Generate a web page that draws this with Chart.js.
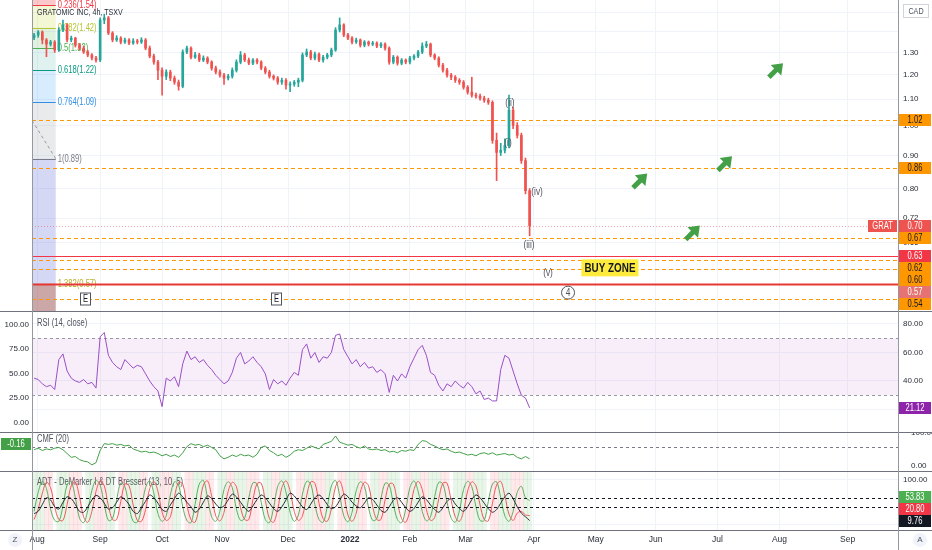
<!DOCTYPE html>
<html>
<head>
<meta charset="utf-8">
<script src="https://cdn.jsdelivr.net/npm/chart.js@4.4.1/dist/chart.umd.min.js"></script>
<style>
  body { margin: 0; background: #fff; }
  #wrap { position: relative; width: 932px; height: 550px; overflow: hidden; background: #fff; }
  #wrap canvas { position: absolute; left: 0; }
  .hline { position: absolute; left: 0; width: 932px; height: 1px; background: #6f727c; }
  .vline { position: absolute; top: 0; width: 1px; height: 550px; background: #9598a1; }
  .btn { position: absolute; top: 533px; width: 14px; height: 14px; border-radius: 7px; background: #f0f3fa;
         font: 8px "Liberation Sans", sans-serif; color: #50535e; text-align: center; line-height: 14px; }
</style>
</head>
<body>
<div id="wrap">
  <canvas id="cMain" width="932" height="311" style="top:0"></canvas>
  <canvas id="cRsi" width="932" height="120" style="top:312px"></canvas>
  <canvas id="cCmf" width="932" height="38" style="top:433px"></canvas>
  <canvas id="cDem" width="932" height="78" style="top:472px"></canvas>
  <div class="hline" style="top:311px"></div>
  <div class="hline" style="top:432px"></div>
  <div class="hline" style="top:471px"></div>
  <div class="hline" style="top:530px"></div>
  <div class="vline" style="left:32px"></div>
  <div class="vline" style="left:898px"></div>
  <div class="btn" style="left:8px">Z</div>
  <div class="btn" style="left:913px">A</div>
</div>
<script>
// GRATOMIC INC, 4h, TSXV - price with fib levels, RSI, CMF and a DeMarker oscillator
const FONT = '"Liberation Sans", Arial, sans-serif';
const SQUEEZE = 0.76;   // the screenshot text is narrow, squeeze drawn labels
const GRID = '#f0f3fa';
const UP = '#26a69a';
const DOWN = '#ef5350';

// time axis (days since Aug 1 2021, trading-time spacing)
const monthNames = ['Aug', 'Sep', 'Oct', 'Nov', 'Dec', '2022', 'Feb', 'Mar', 'Apr', 'May', 'Jun', 'Jul', 'Aug', 'Sep'];
const monthPos = [2.5, 33, 63, 92, 124, 154, 183, 210, 243, 273, 302, 332, 362, 395];

// candles, one every two days
const opens = [
  1.370, 1.383, 1.398, 1.359, 1.339, 1.349, 1.311, 1.408, 1.434, 1.359,
  1.368, 1.334, 1.320, 1.302, 1.288, 1.274, 1.265, 1.459, 1.470, 1.393,
  1.359, 1.368, 1.349, 1.359, 1.344, 1.354, 1.349, 1.359, 1.320, 1.283,
  1.256, 1.220, 1.194, 1.212, 1.186, 1.169, 1.152, 1.302, 1.320, 1.278,
  1.288, 1.265, 1.274, 1.256, 1.229, 1.212, 1.199, 1.186, 1.194, 1.220,
  1.256, 1.288, 1.265, 1.251, 1.265, 1.256, 1.229, 1.212, 1.194, 1.186,
  1.169, 1.177, 1.157, 1.161, 1.169, 1.177, 1.288, 1.302, 1.274, 1.292,
  1.265, 1.278, 1.288, 1.311, 1.408, 1.434, 1.383, 1.368, 1.349, 1.359,
  1.334, 1.349, 1.339, 1.344, 1.330, 1.339, 1.320, 1.256, 1.278, 1.251,
  1.265, 1.256, 1.274, 1.283, 1.302, 1.330, 1.339, 1.288, 1.274, 1.242,
  1.220, 1.199, 1.190, 1.177, 1.169, 1.148, 1.128, 1.116, 1.112, 1.104,
  1.096, 1.088, 0.950, 0.910, 0.917, 0.933, 1.058, 1.002, 0.967, 0.884, 0.794
];
const highs = [
  1.392, 1.405, 1.404, 1.366, 1.357, 1.356, 1.420, 1.459, 1.440, 1.378,
  1.372, 1.342, 1.330, 1.310, 1.295, 1.282, 1.470, 1.490, 1.478, 1.400,
  1.380, 1.375, 1.368, 1.366, 1.365, 1.362, 1.370, 1.366, 1.330, 1.292,
  1.264, 1.230, 1.222, 1.220, 1.195, 1.178, 1.312, 1.330, 1.326, 1.300,
  1.296, 1.284, 1.280, 1.262, 1.238, 1.222, 1.206, 1.202, 1.230, 1.266,
  1.304, 1.296, 1.274, 1.272, 1.272, 1.262, 1.236, 1.220, 1.200, 1.193,
  1.186, 1.184, 1.170, 1.176, 1.186, 1.298, 1.316, 1.310, 1.302, 1.298,
  1.286, 1.296, 1.320, 1.420, 1.470, 1.440, 1.392, 1.375, 1.368, 1.364,
  1.356, 1.354, 1.352, 1.350, 1.346, 1.345, 1.326, 1.286, 1.284, 1.272,
  1.270, 1.282, 1.290, 1.310, 1.345, 1.352, 1.344, 1.294, 1.280, 1.250,
  1.228, 1.206, 1.197, 1.184, 1.176, 1.155, 1.190, 1.124, 1.120, 1.112,
  1.104, 1.094, 0.975, 0.940, 0.955, 1.116, 1.070, 1.012, 0.975, 0.892, 0.800
];
const lows = [
  1.360, 1.372, 1.340, 1.280, 1.330, 1.300, 1.305, 1.400, 1.350, 1.350,
  1.325, 1.312, 1.295, 1.280, 1.266, 1.255, 1.258, 1.440, 1.385, 1.350,
  1.352, 1.340, 1.342, 1.336, 1.338, 1.340, 1.342, 1.312, 1.275, 1.246,
  1.180, 1.116, 1.180, 1.175, 1.160, 1.136, 1.146, 1.294, 1.270, 1.272,
  1.258, 1.258, 1.248, 1.220, 1.204, 1.190, 1.160, 1.178, 1.186, 1.212,
  1.248, 1.258, 1.244, 1.244, 1.248, 1.222, 1.204, 1.186, 1.178, 1.160,
  1.160, 1.140, 1.130, 1.152, 1.150, 1.170, 1.280, 1.266, 1.266, 1.258,
  1.256, 1.270, 1.280, 1.305, 1.398, 1.375, 1.360, 1.340, 1.342, 1.325,
  1.326, 1.330, 1.332, 1.322, 1.322, 1.310, 1.246, 1.248, 1.242, 1.244,
  1.248, 1.248, 1.266, 1.276, 1.294, 1.322, 1.280, 1.266, 1.234, 1.212,
  1.190, 1.180, 1.168, 1.160, 1.140, 1.120, 1.108, 1.104, 1.096, 1.088,
  1.080, 0.940, 0.823, 0.900, 0.908, 0.925, 0.990, 0.958, 0.875, 0.785, 0.676
];
const closes = [
  1.383, 1.398, 1.359, 1.339, 1.349, 1.311, 1.408, 1.434, 1.359, 1.368,
  1.334, 1.320, 1.302, 1.288, 1.274, 1.265, 1.459, 1.470, 1.393, 1.359,
  1.368, 1.349, 1.359, 1.344, 1.354, 1.349, 1.359, 1.320, 1.283, 1.256,
  1.220, 1.194, 1.212, 1.186, 1.169, 1.152, 1.302, 1.320, 1.278, 1.288,
  1.265, 1.274, 1.256, 1.229, 1.212, 1.199, 1.186, 1.194, 1.220, 1.256,
  1.288, 1.265, 1.251, 1.265, 1.256, 1.229, 1.212, 1.194, 1.186, 1.169,
  1.177, 1.157, 1.161, 1.169, 1.177, 1.288, 1.302, 1.274, 1.292, 1.265,
  1.278, 1.288, 1.311, 1.408, 1.434, 1.383, 1.368, 1.349, 1.359, 1.334,
  1.349, 1.339, 1.344, 1.330, 1.339, 1.320, 1.256, 1.278, 1.251, 1.265,
  1.256, 1.274, 1.283, 1.302, 1.330, 1.339, 1.288, 1.274, 1.242, 1.220,
  1.199, 1.190, 1.177, 1.169, 1.148, 1.128, 1.116, 1.112, 1.104, 1.096,
  1.088, 0.950, 0.910, 0.917, 0.933, 1.058, 1.002, 0.967, 0.884, 0.794, 0.701
];

// price axis
const priceTicks = [0.60, 0.66, 0.72, 0.80, 0.90, 1.00, 1.10, 1.20, 1.30, 1.40, 1.50];
const priceTickShown = [0.66, 0.72, 0.80, 0.90, 1.00, 1.10, 1.20, 1.30];

// fib retracement drawn at the start of the chart
const fibRatios = ['0.236', '0.382', '0.5', '0.618', '0.764', '1', '1.382'];
const fibPrices = [1.54, 1.42, 1.32, 1.22, 1.09, 0.89, 0.57];
const fibColors = ['#f23645', '#b7c62e', '#4caf50', '#089981', '#2f8fe8', '#787b86', '#b8ad2a'];
const fibFills = ['rgba(242,54,69,0.28)', 'rgba(205,220,57,0.22)', 'rgba(76,175,80,0.18)', 'rgba(8,153,129,0.13)',
  'rgba(33,150,243,0.18)', 'rgba(120,123,134,0.16)', 'rgba(80,90,210,0.24)', 'rgba(140,60,60,0.45)'];
const fibDays = [0, 11.5];
const trendDays = [0, 11.5];
const trendPrices = [1.02, 0.89];

// horizontal levels
const dashedLevels = [1.02, 0.86, 0.67, 0.62, 0.60, 0.54];
const redLevels = [0.63, 0.57];
const lastPrice = 0.70;
const priceTagVals = [1.02, 0.86, 0.70, 0.67, 0.63, 0.62, 0.60, 0.57, 0.54];
const priceTagBg = ['#ff9800', '#ff9800', '#ef5350', '#ff9800', '#f23645', '#ff9800', '#ff9800', '#e57373', '#ff9800'];

// wave labels, targets and markers
const waveLabels = ['(ii)', '(i)', '(iv)', '(iii)', '(v)', '4'];
const waveDays = [231.5, 230.5, 244.6, 240.7, 249.9, 259.6];
const wavePrices = [1.084, 0.940, 0.789, 0.655, 0.592, 0.552];
const arrowDays = [294.5, 320, 335.6, 360.3];
const arrowPrices = [0.823, 0.684, 0.875, 1.22];
const buyZoneDay = 279.9;
const buyZonePrice = 0.603;
const earningsDays = [25.7, 118.2];

// RSI (14, close)
const rsi = [
  42, 41, 38, 36, 37, 34, 55, 59, 47, 42,
  40, 39, 41, 38, 39, 35, 71, 74, 58, 53,
  50, 48, 55, 52, 49, 51, 50, 45, 40, 36,
  33, 22, 42, 40, 43, 36, 52, 61, 55, 57,
  53, 55, 51, 48, 44, 41, 38, 40, 46, 56,
  60, 52, 54, 57, 53, 50, 45, 34, 41, 38,
  40, 37, 42, 46, 44, 62, 66, 56, 60, 53,
  57, 56, 60, 72, 73, 62, 57, 52, 55, 50,
  53, 49, 50, 46, 48, 45, 32, 44, 40, 45,
  42, 50, 56, 62, 65, 58, 46, 44, 37, 33,
  38, 36, 40, 37, 35, 39, 36, 31, 33, 27,
  28, 26, 26, 48, 58, 56, 47, 38, 30, 28, 21.12
];
const rsiRightTicks = [20, 40, 60, 80];
const rsiLeftTicks = [0, 25, 50, 75, 100];

// CMF (20)
const cmf = [
  -0.04, -0.02, -0.05, -0.03, -0.04, -0.02, -0.01, -0.04, -0.09, -0.14,
  -0.13, -0.17, -0.19, -0.20, -0.24, -0.21, -0.05, 0.04, 0.03, 0.04,
  0.02, 0.03, 0.01, 0.02, -0.03, -0.05, -0.07, -0.06, -0.08, -0.07,
  -0.09, -0.12, -0.10, -0.13, -0.11, -0.14, -0.08, 0.00, 0.04, 0.02,
  0.03, 0.00, 0.02, -0.01, -0.04, -0.12, -0.16, -0.14, -0.11, -0.13,
  -0.10, -0.12, -0.11, -0.14, -0.10, -0.01, 0.01, -0.05, -0.08, -0.12,
  -0.10, -0.14, -0.11, -0.06, -0.04, -0.05, -0.02, 0.01, -0.01, -0.03,
  0.03, 0.05, 0.07, 0.14, 0.06, 0.04, 0.02, 0.03, 0.00, -0.02,
  0.01, -0.03, -0.04, -0.03, -0.05, -0.04, -0.07, -0.06, -0.08, -0.05,
  -0.06, -0.04, -0.05, 0.03, 0.08, 0.07, 0.03, 0.01, -0.02, -0.04,
  -0.03, -0.06, -0.08, -0.07, -0.09, -0.11, -0.10, -0.12, -0.09, -0.08,
  -0.10, -0.08, -0.11, -0.10, -0.09, -0.11, -0.10, -0.14, -0.16, -0.13, -0.16
];

// ADT - DeMarker I & DT Bressert (13, 10, 5)
const demGreen = [
  30, 72, 96, 80, 35, 10, 8, 42, 88, 95,
  60, 15, 5, 32, 76, 98, 88, 45, 10, 14,
  56, 92, 84, 40, 8, 6, 36, 82, 97, 70,
  25, 8, 20, 66, 95, 88, 40, 10, 5, 46,
  90, 98, 60, 18, 8, 30, 78, 95, 82, 35,
  10, 15, 60, 93, 90, 50, 12, 5, 38, 85,
  97, 72, 28, 8, 22, 68, 96, 90, 45, 12,
  6, 40, 86, 98, 65, 20, 7, 28, 75, 95,
  85, 38, 10, 14, 58, 92, 88, 46, 12, 5,
  35, 82, 97, 74, 30, 9, 18, 62, 94, 90,
  50, 15, 6, 32, 78, 96, 84, 40, 10, 10,
  52, 90, 95, 60, 20, 8, 30, 72, 85, 60, 53.83
];
const demRed = [
  12, 35, 70, 94, 82, 40, 12, 10, 45, 86,
  94, 62, 18, 6, 30, 74, 97, 86, 42, 12,
  12, 52, 90, 86, 44, 10, 8, 34, 80, 96,
  74, 28, 10, 18, 62, 94, 90, 44, 12, 6,
  42, 88, 97, 64, 20, 9, 28, 74, 94, 84,
  38, 12, 12, 56, 91, 92, 54, 14, 6, 35,
  82, 97, 75, 30, 10, 20, 64, 95, 92, 48,
  14, 8, 36, 84, 97, 68, 22, 8, 26, 72,
  94, 86, 40, 12, 12, 55, 90, 90, 50, 14,
  6, 32, 78, 96, 78, 34, 10, 16, 58, 92,
  92, 54, 18, 8, 30, 75, 95, 86, 44, 12,
  9, 48, 88, 96, 64, 24, 10, 26, 30, 22, 20.8
];
const demBlack = [
  25, 30, 45, 60, 55, 40, 35, 50, 62, 58,
  45, 30, 28, 40, 55, 65, 60, 48, 35, 38,
  50, 62, 56, 45, 30, 25, 38, 52, 66, 60,
  48, 34, 30, 44, 58, 70, 62, 50, 40, 28,
  35, 50, 64, 58, 46, 38, 42, 55, 68, 62,
  50, 38, 30, 42, 56, 66, 60, 48, 36, 30,
  40, 55, 70, 64, 52, 40, 34, 46, 60, 66,
  58, 45, 36, 40, 54, 68, 62, 50, 42, 38,
  48, 60, 56, 44, 32, 28, 40, 54, 60, 50,
  38, 30, 36, 50, 62, 56, 44, 34, 28, 38,
  52, 58, 46, 36, 30, 40, 56, 66, 60, 48,
  36, 28, 34, 48, 62, 70, 58, 40, 26, 18, 9.76
];
// bar state shading: 1 bullish, -1 bearish, 0 none
const demState = [
  1, 1, 1, -1, -1, 0, 1, 1, 1, -1,
  -1, -1, 0, 1, 1, -1, -1, -1, 1, 1,
  0, -1, -1, 1, 1, 1, -1, -1, 0, 1,
  1, -1, -1, -1, 1, 1, 0, -1, -1, 1,
  1, 1, -1, -1, 0, 1, 1, -1, -1, 1,
  1, 1, -1, -1, -1, 0, 1, 1, -1, -1,
  1, 1, 1, 0, -1, -1, 1, 1, -1, -1,
  -1, 1, 1, 0, -1, -1, 1, 1, 1, -1,
  -1, 0, 1, 1, -1, -1, 1, 1, 1, 0,
  -1, -1, 1, 1, -1, -1, 1, 1, 1, -1,
  -1, 0, 1, 1, 1, -1, -1, 1, 1, 1,
  0, -1, -1, 1, 1, 1, -1, -1, -1, 1, 1
];
const demLevels = [60, 40];

Chart.defaults.font.family = FONT;
Chart.defaults.font.size = 8;
Chart.defaults.color = '#2a2e39';

const days = closes.map((_, i) => 1 + 2 * i);
const candleColors = closes.map((c, i) => c >= opens[i] ? UP : DOWN);

// no automatic label padding: panes must line up exactly
function noPad(s) { s.paddingTop = 0; s.paddingBottom = 0; s.paddingLeft = 0; s.paddingRight = 0; }

function xAxis(labels) {
  return {
    type: 'linear', min: 0, max: 419.4, offset: false,
    afterBuildTicks: s => { s.ticks = monthPos.map(v => ({value: v})); },
    afterFit: s => { noPad(s); s.height = labels ? 20 : 0; },
    grid: {color: GRID, drawTicks: false, offset: false},
    border: {display: false},
    ticks: {
      display: labels, autoSkip: false, maxRotation: 0, padding: 5,
      font: c => ({size: 8.5, weight: monthNames[c.index] === '2022' ? 'bold' : 'normal'}),
      callback: (v, i) => monthNames[i]
    }
  };
}

function sideAxis(pos, min, max, tickVals, width, fmt) {
  return {
    position: pos, min: min, max: max,
    afterBuildTicks: s => { s.ticks = tickVals.map(v => ({value: v})); },
    afterFit: s => { noPad(s); s.width = width; },
    ticks: {autoSkip: false, padding: pos === 'right' ? 5 : -5, callback: fmt || (v => v.toFixed(2))},
    grid: {color: GRID, drawTicks: false},
    border: {display: false}
  };
}

function ntext(ctx, text, x, y, size, color, align, bold) {
  ctx.save();
  ctx.font = (bold ? 'bold ' : '') + size + 'px ' + FONT;
  ctx.textBaseline = 'middle';
  ctx.textAlign = align || 'left';
  ctx.fillStyle = color;
  ctx.translate(x, y);
  ctx.scale(SQUEEZE, 1);
  ctx.fillText(text, 0, 0);
  ctx.restore();
}

function tag(ctx, x, y, w, text, bg, fg) {
  ctx.fillStyle = bg;
  ctx.fillRect(x, Math.round(y - 6), w, 12);
  ntext(ctx, text, x + w / 2, Math.round(y) + 0.5, 10, fg, 'center');
}

function hLine(ctx, a, y, color, width, dash) {
  ctx.save();
  ctx.strokeStyle = color;
  ctx.lineWidth = width;
  ctx.setLineDash(dash);
  ctx.beginPath();
  ctx.moveTo(a.left, Math.round(y) + 0.5);
  ctx.lineTo(a.right, Math.round(y) + 0.5);
  ctx.stroke();
  ctx.restore();
}

function arrow(ctx, cx, cy) {
  ctx.save();
  ctx.translate(cx, cy);
  ctx.rotate(-Math.PI / 4);
  ctx.strokeStyle = '#43a047';
  ctx.fillStyle = '#43a047';
  ctx.lineWidth = 5;
  ctx.beginPath();
  ctx.moveTo(-10, 0);
  ctx.lineTo(2, 0);
  ctx.stroke();
  ctx.beginPath();
  ctx.moveTo(10, 0);
  ctx.lineTo(0, -7.5);
  ctx.lineTo(0, 7.5);
  ctx.closePath();
  ctx.fill();
  ctx.restore();
}

const mainDecor = {
  id: 'mainDecor',
  beforeDatasetsDraw(chart) {
    const {ctx, chartArea: a, scales: {x, y}} = chart;
    const px = d => x.getPixelForValue(d);
    const py = v => y.getPixelForValue(v);
    ctx.save();
    ctx.beginPath();
    ctx.rect(a.left, a.top, a.width, a.height);
    ctx.clip();
    const x0 = px(fibDays[0]), x1 = px(fibDays[1]);
    const edges = [a.top, ...fibPrices.map(py), a.bottom];
    fibFills.forEach((c, i) => {
      ctx.fillStyle = c;
      ctx.fillRect(x0, edges[i], x1 - x0, edges[i + 1] - edges[i]);
    });
    fibPrices.forEach((p, i) => {
      const yy = Math.round(py(p)) + 0.5;
      ctx.strokeStyle = fibColors[i];
      ctx.lineWidth = 1;
      ctx.beginPath();
      ctx.moveTo(x0, yy);
      ctx.lineTo(x1, yy);
      ctx.stroke();
      ntext(ctx, fibRatios[i] + '(' + p.toFixed(2) + ')', x1 + 2, yy, 10, fibColors[i]);
    });
    ctx.strokeStyle = '#9598a1';
    ctx.setLineDash([3, 3]);
    ctx.beginPath();
    ctx.moveTo(px(trendDays[0]), py(trendPrices[0]));
    ctx.lineTo(px(trendDays[1]), py(trendPrices[1]));
    ctx.stroke();
    ctx.setLineDash([]);
    hLine(ctx, a, py(lastPrice), 'rgba(242,54,69,0.45)', 1, [1, 2]);
    dashedLevels.forEach(v => hLine(ctx, a, py(v), '#ff9800', 1, [4, 3]));
    hLine(ctx, a, py(redLevels[0]), '#f23645', 1.2, []);
    hLine(ctx, a, py(redLevels[1]), '#e53935', 2, []);
    ctx.restore();
  },
  afterDraw(chart) {
    const {ctx, chartArea: a, scales: {x, y}} = chart;
    const px = d => x.getPixelForValue(d);
    const py = v => y.getPixelForValue(v);
    ctx.save();
    // wave labels
    waveLabels.forEach((t, i) => {
      const cx = px(waveDays[i]), cy = py(wavePrices[i]);
      ntext(ctx, t, cx, cy, 11, '#50535e', 'center');
      if (t === '4') {
        ctx.strokeStyle = '#50535e';
        ctx.lineWidth = 1;
        ctx.beginPath();
        ctx.arc(cx, cy, 6.5, 0, Math.PI * 2);
        ctx.stroke();
      }
    });
    // buy zone
    ctx.font = 'bold 13px ' + FONT;
    const bx = px(buyZoneDay), by = py(buyZonePrice);
    const bw = ctx.measureText('BUY ZONE').width * SQUEEZE + 6;
    ctx.fillStyle = '#ffeb3b';
    ctx.fillRect(bx - bw / 2, by - 8.5, bw, 17);
    ntext(ctx, 'BUY ZONE', bx, by + 0.5, 13, '#131722', 'center', true);
    // target arrows
    arrowDays.forEach((d, i) => arrow(ctx, px(d), py(arrowPrices[i])));
    // earnings markers
    earningsDays.forEach(d => {
      const ex = Math.round(px(d)) + 0.5, ey = a.bottom - 12;
      ctx.fillStyle = '#fff';
      ctx.fillRect(ex - 5, ey - 6, 10, 12);
      ctx.strokeStyle = '#50535e';
      ctx.lineWidth = 1;
      ctx.strokeRect(ex - 5, ey - 6, 10, 12);
      ntext(ctx, 'E', ex, ey + 0.5, 10, '#131722', 'center');
    });
    // title
    ntext(ctx, 'GRATOMIC INC, 4h, TSXV', a.left + 5, 12, 9.3, '#2a2e39');
    // price tags on the axis
    const tags = priceTagVals.map((v, i) => ({v: v, y: py(v), bg: priceTagBg[i]})).sort((p, q) => p.y - q.y);
    let prev = -Infinity;
    tags.forEach(t => { t.y = Math.max(t.y, prev + 12); prev = t.y; });
    tags.forEach(t => {
      const fg = t.bg === '#ff9800' ? '#131722' : '#ffffff';
      tag(ctx, a.right + 1, t.y, 32, t.v.toFixed(2), t.bg, fg);
      if (t.v === lastPrice) tag(ctx, a.right - 30, t.y, 29, 'GRAT', t.bg, '#ffffff');
    });
    // currency button
    ctx.strokeStyle = '#d1d4dc';
    ctx.fillStyle = '#fff';
    ctx.fillRect(a.right + 5, 4, 26, 14);
    ctx.strokeRect(a.right + 5.5, 4.5, 25, 13);
    ntext(ctx, 'CAD', a.right + 18, 11.5, 9.5, '#50535e', 'center');
    ctx.restore();
  }
};

new Chart(document.getElementById('cMain'), {
  type: 'bar',
  data: {
    datasets: [
      {data: days.map((d, i) => ({x: d, y: [opens[i], closes[i]]})), backgroundColor: candleColors,
       barThickness: 2, minBarLength: 1, grouped: false},
      {data: days.map((d, i) => ({x: d, y: [lows[i], highs[i]]})), backgroundColor: candleColors,
       barThickness: 1, grouped: false}
    ]
  },
  options: {
    responsive: false, animation: false, events: [],
    layout: {padding: {left: 32}},
    plugins: {legend: {display: false}, tooltip: {enabled: false}},
    scales: {
      x: xAxis(false),
      y: Object.assign(sideAxis('right', 0.517, 1.567, priceTicks, 34,
        v => priceTickShown.includes(v) ? v.toFixed(2) : ''), {type: 'logarithmic'})
    }
  },
  plugins: [mainDecor]
});

const rsiDecor = {
  id: 'rsiDecor',
  beforeDatasetsDraw(chart) {
    const {ctx, chartArea: a, scales: {y}} = chart;
    ctx.save();
    const top = y.getPixelForValue(70), bot = y.getPixelForValue(30);
    ctx.fillStyle = 'rgba(156,39,176,0.08)';
    ctx.fillRect(a.left, top, a.width, bot - top);
    hLine(ctx, a, top, '#9598a1', 1, [3, 3]);
    hLine(ctx, a, bot, '#9598a1', 1, [3, 3]);
    ntext(ctx, 'RSI (14, close)', a.left + 5, 11, 10, '#50535e');
    ctx.restore();
  },
  afterDraw(chart) {
    const {ctx, chartArea: a, scales: {y}} = chart;
    const last = rsi[rsi.length - 1];
    tag(ctx, a.right + 1, y.getPixelForValue(last), 32, last.toFixed(2), '#8e24aa', '#ffffff');
  }
};

new Chart(document.getElementById('cRsi'), {
  type: 'line',
  data: {datasets: [{data: days.map((d, i) => ({x: d, y: rsi[i]})), borderColor: '#9a4fc6', borderWidth: 1,
    pointRadius: 0, tension: 0}]},
  options: {
    responsive: false, animation: false, events: [],
    plugins: {legend: {display: false}, tooltip: {enabled: false}},
    scales: {
      x: xAxis(false),
      y: sideAxis('right', 4.2, 88.4, rsiRightTicks, 34),
      yl: Object.assign(sideAxis('left', -9.4, 113, rsiLeftTicks, 32), {grid: {display: false}})
    }
  },
  plugins: [rsiDecor]
});

const cmfDecor = {
  id: 'cmfDecor',
  beforeDatasetsDraw(chart) {
    const {ctx, chartArea: a, scales: {y}} = chart;
    hLine(ctx, a, y.getPixelForValue(0), '#787b86', 1, [3, 3]);
    ntext(ctx, 'CMF (20)', a.left + 5, 6, 10, '#50535e');
  },
  afterDraw(chart) {
    const {ctx, scales: {y}} = chart;
    const last = cmf[cmf.length - 1];
    tag(ctx, 1, y.getPixelForValue(0) - 3, 30, last.toFixed(2), '#43a047', '#ffffff');
  }
};

new Chart(document.getElementById('cCmf'), {
  type: 'line',
  data: {datasets: [{data: days.map((d, i) => ({x: d, y: cmf[i]})), borderColor: '#43a047', borderWidth: 1,
    pointRadius: 0, tension: 0}]},
  options: {
    responsive: false, animation: false, events: [],
    plugins: {legend: {display: false}, tooltip: {enabled: false}},
    scales: {
      x: xAxis(false),
      y: Object.assign(sideAxis('left', -0.32, 0.18, [0], 32), {grid: {display: false}}),
      yr: Object.assign(sideAxis('right', -15, 100, [0, 100], 34), {grid: {display: false}})
    }
  },
  plugins: [cmfDecor]
});

const DEM_MIN = -11, DEM_MAX = 116.5;
const demDecor = {
  id: 'demDecor',
  beforeDatasetsDraw(chart) {
    const {ctx, chartArea: a} = chart;
    ntext(ctx, 'ADT - DeMarker I & DT Bressert (13, 10, 5)', a.left + 5, 10, 10, '#50535e');
  },
  afterDatasetsDraw(chart) {
    const {ctx, chartArea: a, scales: {y}} = chart;
    demLevels.forEach(v => hLine(ctx, a, y.getPixelForValue(v), '#131722', 1, [3, 3]));
  },
  afterDraw(chart) {
    const {ctx, chartArea: a, scales: {y}} = chart;
    const tags = [
      {v: demGreen[demGreen.length - 1], bg: '#4caf50'},
      {v: demRed[demRed.length - 1], bg: '#f23645'},
      {v: demBlack[demBlack.length - 1], bg: '#131722'}
    ].map(t => Object.assign(t, {y: y.getPixelForValue(t.v)})).sort((p, q) => q.y - p.y);
    let prev = Infinity;
    tags.forEach(t => { t.y = Math.min(t.y, prev - 12); prev = t.y; });
    tags.forEach(t => tag(ctx, a.right + 1, t.y, 32, t.v.toFixed(2), t.bg, '#ffffff'));
  }
};

new Chart(document.getElementById('cDem'), {
  type: 'line',
  data: {
    datasets: [
      {data: days.map((d, i) => ({x: d, y: demBlack[i]})), borderColor: '#2a2e39', borderWidth: 1, pointRadius: 0, tension: 0.3},
      {data: days.map((d, i) => ({x: d, y: demRed[i]})), borderColor: '#f05a5a', borderWidth: 1, pointRadius: 0, tension: 0.35},
      {data: days.map((d, i) => ({x: d, y: demGreen[i]})), borderColor: '#5cae5f', borderWidth: 1, pointRadius: 0, tension: 0.35},
      {type: 'bar', order: 10, grouped: false, barPercentage: 1, categoryPercentage: 1,
       data: days.map((d, i) => ({x: d, y: [DEM_MIN, DEM_MAX]})),
       backgroundColor: demState.map(s => s > 0 ? 'rgba(76,175,80,0.13)' : s < 0 ? 'rgba(242,54,69,0.11)' : 'rgba(0,0,0,0)')}
    ]
  },
  options: {
    responsive: false, animation: false, events: [],
    layout: {padding: {left: 32}},
    plugins: {legend: {display: false}, tooltip: {enabled: false}},
    scales: {
      x: xAxis(true),
      y: sideAxis('right', DEM_MIN, DEM_MAX, [0, 100], 34)
    }
  },
  plugins: [demDecor]
});
</script>
</body>
</html>
